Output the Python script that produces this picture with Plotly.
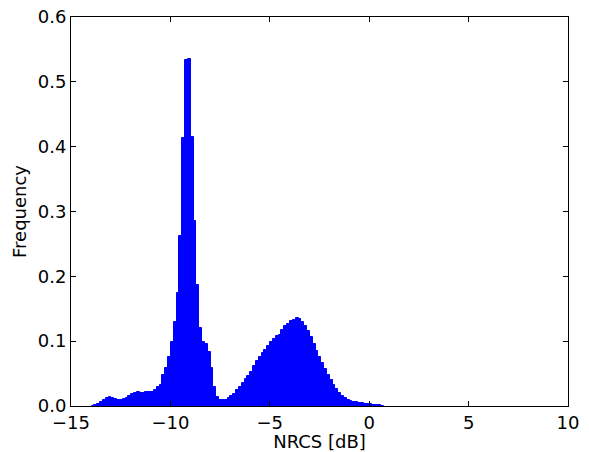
import plotly.graph_objects as go

# Histogram of NRCS values (bin start, bin width, per-bin frequency)
bin_start = -13.966
bin_width = 0.1426
frequency = [
    0.000, 0.001, 0.003, 0.006, 0.009, 0.012, 0.014, 0.013, 0.011, 0.010,
    0.010, 0.011, 0.013, 0.015, 0.018, 0.020, 0.021, 0.020, 0.020, 0.021,
    0.021, 0.022, 0.025, 0.029, 0.033, 0.048, 0.058, 0.076, 0.098, 0.130,
    0.175, 0.262, 0.413, 0.533, 0.535, 0.415, 0.286, 0.186, 0.120, 0.099,
    0.096, 0.083, 0.058, 0.030, 0.014, 0.009, 0.009, 0.010, 0.012, 0.015,
    0.019, 0.024, 0.030, 0.035, 0.041, 0.046, 0.053, 0.061, 0.069, 0.075,
    0.081, 0.087, 0.092, 0.098, 0.104, 0.108, 0.109, 0.118, 0.124, 0.127,
    0.131, 0.133, 0.135, 0.134, 0.130, 0.123, 0.116, 0.106, 0.096, 0.085,
    0.076, 0.066, 0.057, 0.048, 0.040, 0.032, 0.026, 0.020, 0.015, 0.012,
    0.009, 0.008, 0.006, 0.006, 0.005, 0.004, 0.0035, 0.003, 0.0025, 0.002,
    0.0015, 0.001, 0.0005,
]
x_ticks = [-15, -10, -5, 0, 5, 10]
x_tick_text = ["\u221215", "\u221210", "\u22125", "0", "5", "10"]
y_ticks = [0.0, 0.1, 0.2, 0.3, 0.4, 0.5, 0.6]

centers = [bin_start + (i + 0.5) * bin_width for i in range(len(frequency))]

fig = go.Figure(go.Bar(
    x=centers, y=frequency, width=bin_width,
    marker=dict(color="#0000ff", line=dict(width=1, color="#0000ff")),
    hoverinfo="x+y",
))

font = dict(family="DejaVu Sans", size=18, color="black")
fig.update_layout(
    width=589, height=452,
    margin=dict(l=71, r=21, t=17, b=46),
    paper_bgcolor="white", plot_bgcolor="white",
    bargap=0, showlegend=False, font=font,
)
fig.update_xaxes(
    range=[-15, 10], tickvals=x_ticks, ticktext=x_tick_text, automargin=False,
    showline=True, linecolor="black", linewidth=1, mirror="ticks",
    ticks="inside", ticklen=5, tickcolor="black", showgrid=False, zeroline=False,
    title=dict(text="NRCS [dB]", font=font, standoff=2),
)
fig.update_yaxes(
    range=[0, 0.6], tickvals=y_ticks, tickformat=".1f", automargin=False,
    showline=True, linecolor="black", linewidth=1, mirror="ticks",
    ticks="inside", ticklen=5, tickcolor="black", showgrid=False, zeroline=False,
    title=dict(text="Frequency", font=font, standoff=6),
)
fig.write_html("out.html", config={"displayModeBar": False},
               post_script="document.body.style.margin='0';")
